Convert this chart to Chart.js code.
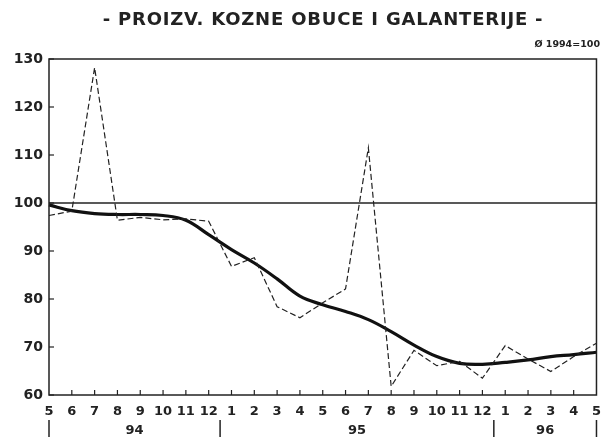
<!DOCTYPE html>
<html>
<head>
<meta charset="utf-8">
<script src="https://cdn.jsdelivr.net/npm/chart.js@4"></script>
<style>
  body { margin: 0; background: #fff; }
  #wrap { width: 610px; height: 439px; position: relative; }
</style>
</head>
<body>
<div id="wrap"><canvas id="chart"></canvas></div>
<script>
// months from 5/1994 to 5/1996
const months = ['5','6','7','8','9','10','11','12','1','2','3','4','5','6','7','8','9','10','11','12','1','2','3','4','5'];
// monthly index (dashed)
const monthly = [97.4, 98.3, 128.2, 96.4, 97.0, 96.5, 96.7, 96.2, 86.8, 88.6, 78.4, 76.1, 79.2, 82.1, 111.5, 61.8, 69.3, 66.1, 67.0, 63.5, 70.3, 67.5, 64.9, 68.0, 70.8];
// trend (thick)
const trend = [99.6, 98.4, 97.8, 97.6, 97.6, 97.4, 96.4, 93.4, 90.3, 87.5, 84.2, 80.6, 78.8, 77.4, 75.7, 73.2, 70.4, 68.0, 66.6, 66.4, 66.8, 67.3, 68.0, 68.4, 68.9];
const yTicks = [60, 70, 80, 90, 100, 110, 120, 130];
// year labels: text, start index, end index of the span
const years = [['94', 0, 7.5], ['95', 7.5, 19.5], ['96', 19.5, 24]];
const yearBreaks = [0, 7.5, 19.5, 24];

const ink = '#222';

const decor = {
    id: 'decor',
    afterDraw(chart) {
        const ctx = chart.ctx;
        const a = chart.chartArea;
        const x = chart.scales.x;
        const y = chart.scales.y;
        ctx.save();
        ctx.strokeStyle = ink;
        ctx.fillStyle = ink;

        // frame
        ctx.lineWidth = 1.5;
        ctx.strokeRect(a.left, a.top, a.right - a.left, a.bottom - a.top);

        // base line 100
        ctx.beginPath();
        ctx.moveTo(a.left, y.getPixelForValue(100));
        ctx.lineTo(a.right, y.getPixelForValue(100));
        ctx.stroke();

        // inner ticks
        ctx.lineWidth = 1.2;
        for (let i = 1; i < months.length - 1; i++) {
            const px = x.getPixelForValue(i);
            ctx.beginPath();
            ctx.moveTo(px, a.bottom);
            ctx.lineTo(px, a.bottom - 5);
            ctx.stroke();
        }
        yTicks.forEach(v => {
            const py = y.getPixelForValue(v);
            ctx.beginPath();
            ctx.moveTo(a.left, py);
            ctx.lineTo(a.left + 5, py);
            ctx.stroke();
        });

        // year row
        ctx.lineWidth = 1.5;
        yearBreaks.forEach(b => {
            const px = x.getPixelForValue(b);
            ctx.beginPath();
            ctx.moveTo(px, 420);
            ctx.lineTo(px, 437);
            ctx.stroke();
        });
        ctx.font = 'bold 13px "DejaVu Sans"';
        ctx.textAlign = 'center';
        ctx.textBaseline = 'middle';
        years.forEach(([t, s, e]) => {
            const px = (x.getPixelForValue(s) + x.getPixelForValue(e)) / 2;
            ctx.fillText(t, px, 431);
        });

        // title and note
        ctx.font = 'bold 18px "DejaVu Sans"';
        ctx.letterSpacing = '0.8px';
        ctx.fillText('- PROIZV. KOZNE OBUCE I GALANTERIJE -', 323, 20);
        ctx.letterSpacing = '0px';
        ctx.font = 'bold 9.5px "DejaVu Sans"';
        ctx.textAlign = 'right';
        ctx.fillText('\u00D8 1994=100', 600, 45);
        ctx.restore();
    }
};

new Chart(document.getElementById('chart'), {
    type: 'line',
    data: {
        labels: months,
        datasets: [
            {
                data: monthly,
                borderColor: ink,
                borderWidth: 1.2,
                borderDash: [6, 3],
                pointRadius: 0,
                tension: 0
            },
            {
                data: trend,
                borderColor: '#111',
                borderWidth: 3.2,
                pointRadius: 0,
                tension: 0.4
            }
        ]
    },
    options: {
        responsive: true,
        maintainAspectRatio: false,
        animation: false,
        layout: { padding: { top: 59, right: 7, left: 0, bottom: 0 } },
        plugins: { legend: { display: false }, tooltip: { enabled: false } },
        scales: {
            x: {
                offset: false,
                grid: { display: false, drawTicks: false },
                border: { display: false },
                ticks: {
                    color: ink,
                    font: { family: 'DejaVu Sans', weight: 'bold', size: 13 },
                    padding: 9,
                    maxRotation: 0,
                    autoSkip: false
                },
                afterFit(s) { s.height = 44; }
            },
            y: {
                min: 60,
                max: 130,
                grid: { display: false, drawTicks: false },
                border: { display: false },
                ticks: {
                    stepSize: 10,
                    color: ink,
                    font: { family: 'DejaVu Sans', weight: 'bold', size: 14 },
                    padding: 6
                },
                afterFit(s) { s.width = 49; }
            }
        }
    },
    plugins: [decor]
});
</script>
</body>
</html>
